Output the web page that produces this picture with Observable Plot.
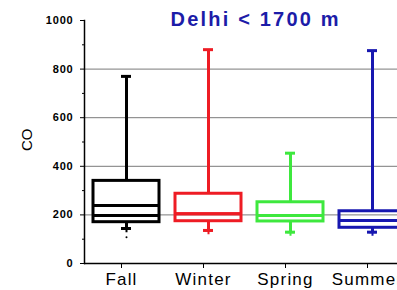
<!DOCTYPE html>
<html>
<head>
<meta charset="utf-8">
<script src="https://cdn.jsdelivr.net/npm/d3@7"></script>
<script src="https://cdn.jsdelivr.net/npm/@observablehq/plot@0.6"></script>
<style>
  html, body { margin: 0; padding: 0; background: #fff; overflow: hidden; }
  #chart { width: 397px; height: 290px; overflow: hidden; }
  #chart svg { max-width: none !important; width: 413px !important; height: 290px !important; font-family: "Liberation Sans", Arial, sans-serif; }
  [aria-label="x-axis tick label"] text { letter-spacing: 1.2px; }
  [aria-label="y-axis tick label"] text { letter-spacing: 0.8px; }
  text[aria-label="title"] { letter-spacing: 2.2px; }
</style>
</head>
<body>
<div id="chart"></div>
<script>
const title = "Delhi < 1700 m";
const yLabel = "CO";
const seasons = ["Fall", "Winter", "Spring", "Summer"];
const colors = ["#000000", "#ee1c24", "#3ee83e", "#1717b0"];
const whiskerLow = [144, 136, 129, 129];
const q1 = [170, 174, 173, 147];
const median = [239, 205, 198, 177];
const mean = [198, 205, 198, 177];
const q3 = [340, 287, 252, 215];
const whiskerHigh = [770, 880, 454, 876];
const outlierSeason = ["Fall"];
const outlierValue = [108];
const majorTicks = [0, 200, 400, 600, 800, 1000];
const minorTicks = [100, 300, 500, 700, 900];
const gridTicks = [200, 400, 600, 800];

const rows = seasons.map((s, i) => ({
  season: s, color: colors[i], lo: whiskerLow[i], q1: q1[i], med: median[i],
  mean: mean[i], q3: q3[i], hi: whiskerHigh[i]
}));
const outliers = outlierSeason.map((s, i) => ({season: s, v: outlierValue[i], color: colors[seasons.indexOf(s)]}));

const chart = Plot.plot({
  width: 413,
  height: 290,
  marginLeft: 84,
  marginRight: 0,
  marginTop: 20,
  marginBottom: 27,
  style: {maxWidth: "none"},
  x: {domain: seasons, paddingInner: 0.2, paddingOuter: 0.1},
  y: {domain: [0, 1000]},
  color: {type: "identity"},
  marks: [
    Plot.gridY(gridTicks, {stroke: "#7a7a7a", strokeOpacity: 1, strokeWidth: 1}),
    Plot.axisY({ticks: majorTicks, tickSize: 4, tickPadding: 7, tickFormat: d => String(d), fontSize: 11, fontWeight: "bold", label: null}),
    Plot.axisY({ticks: minorTicks, tickSize: 2, tickFormat: () => "", label: null}),
    Plot.axisX({tickSize: 5, tickPadding: 4, dx: -5, fontSize: 17, label: null}),
    Plot.frame({anchor: "left", strokeWidth: 1.5}),
    Plot.ruleY([0], {strokeWidth: 1.5}),
    Plot.ruleX(rows, {x: "season", y1: "q3", y2: "hi", stroke: "color", strokeWidth: 3}),
    Plot.ruleX(rows, {x: "season", y1: "lo", y2: "q1", stroke: "color", strokeWidth: 3}),
    Plot.tickY(rows, {x: "season", y: "hi", stroke: "color", strokeWidth: 3, insetLeft: 28, insetRight: 28}),
    Plot.tickY(rows, {x: "season", y: "lo", stroke: "color", strokeWidth: 3, insetLeft: 28, insetRight: 28}),
    Plot.dot(rows, {x: "season", y: "lo", symbol: "plus", r: 2.5, stroke: "color", strokeWidth: 2}),
    Plot.barY(rows, {x: "season", y1: "q1", y2: "q3", fill: "none", stroke: "color", strokeWidth: 3}),
    Plot.tickY(rows, {x: "season", y: "med", stroke: "color", strokeWidth: 3}),
    Plot.tickY(rows, {x: "season", y: "mean", stroke: "color", strokeWidth: 3}),
    Plot.dot(outliers, {x: "season", y: "v", r: 1, fill: "color", stroke: null}),
    Plot.text([yLabel], {frameAnchor: "left", dx: -57, dy: 9, rotate: -90, fontSize: 15, fill: "#000"}),
    Plot.text([title], {frameAnchor: "top-left", dx: 86, dy: -1, lineAnchor: "middle", textAnchor: "start", fontSize: 20, fontWeight: "bold", fill: "#1c1ca8", ariaLabel: () => "title"})
  ]
});
document.getElementById("chart").appendChild(chart);
</script>
</body>
</html>
